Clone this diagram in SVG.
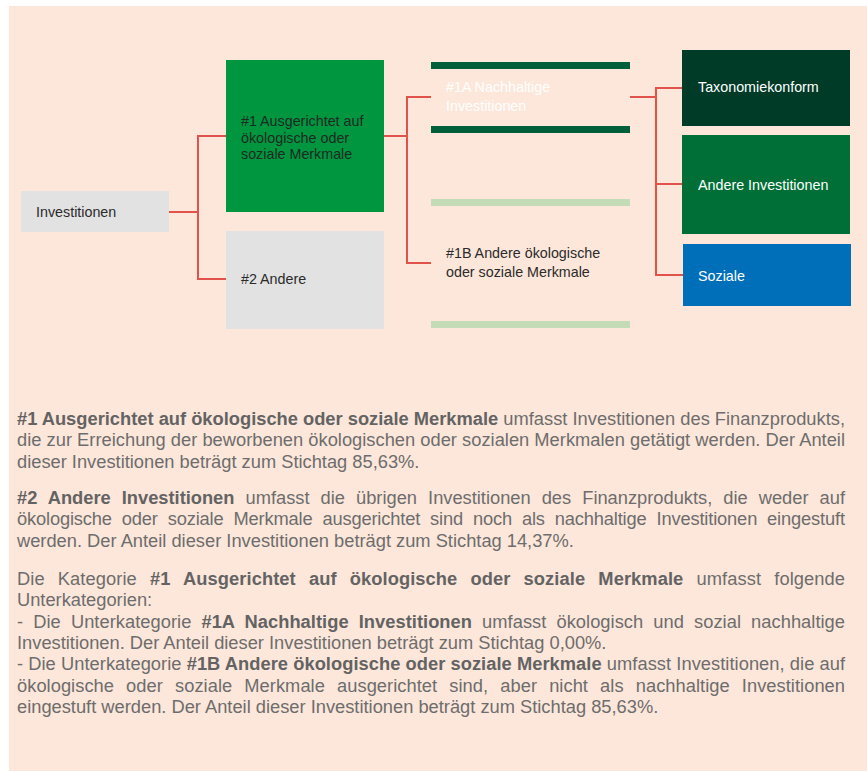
<svg xmlns="http://www.w3.org/2000/svg" width="867" height="772" viewBox="0 0 867 772">
<style>
.bg{fill:#fde7da}
.lbl{font-family:"Liberation Sans",Arial,sans-serif;font-size:14.3px}
.dark{fill:#2b2b2b}
.light{fill:#ffffff}
.con{fill:none;stroke:#e0524a;stroke-width:2}
.p{font-family:"Liberation Sans",Arial,sans-serif;font-size:18.3px;fill:#6d6d6d}
.b{font-weight:bold;fill:#636363}
</style>
<rect x="0" y="0" width="867" height="772" fill="#ffffff"/>
<rect class="bg" x="9" y="6" width="858" height="765"/>

<g id="connectors">
<path class="con" d="M169,212 H198 M198,136 V279 M197,136 H226 M197,279 H226"/>
<path class="con" d="M384,136 H407 M407,97 V263 M406,97 H431 M406,263 H431"/>
<path class="con" d="M630,97 H656 M656,88 V275 M655,88 H683 M655,184 H683 M655,275 H683"/>
</g>

<g id="investitionen">
<rect x="21" y="191" width="148" height="41" fill="#e2e2e2"/>
<text class="lbl dark" x="36" y="217">Investitionen</text>
</g>

<g id="n1">
<rect x="226" y="60" width="158" height="152" fill="#009640"/>
<text class="lbl" fill="#1d2a21" x="241" y="126">#1 Ausgerichtet auf</text>
<text class="lbl" fill="#1d2a21" x="241" y="142.5">ökologische oder</text>
<text class="lbl" fill="#1d2a21" x="241" y="159">soziale Merkmale</text>
</g>

<g id="n2">
<rect x="226" y="231" width="158" height="98" fill="#e2e2e2"/>
<text class="lbl dark" x="241" y="284">#2 Andere</text>
</g>

<g id="n1a">
<rect x="431" y="62" width="199" height="7" fill="#005f3b"/>
<rect x="431" y="126" width="199" height="7" fill="#005f3b"/>
<text class="lbl light" x="446" y="92">#1A Nachhaltige</text>
<text class="lbl light" x="446" y="111">Investitionen</text>
</g>

<g id="n1b">
<rect x="431" y="199" width="199" height="7" fill="#c3dcb7"/>
<rect x="431" y="321" width="199" height="7" fill="#c3dcb7"/>
<text class="lbl dark" x="446" y="258">#1B Andere ökologische</text>
<text class="lbl dark" x="446" y="277">oder soziale Merkmale</text>
</g>

<g id="taxonomiekonform">
<rect x="682" y="50" width="168" height="76" fill="#003b28"/>
<text class="lbl light" x="698" y="92">Taxonomiekonform</text>
</g>

<g id="andere-investitionen">
<rect x="682" y="135" width="168" height="99" fill="#006f37"/>
<text class="lbl light" x="698" y="190">Andere Investitionen</text>
</g>

<g id="soziale">
<rect x="683" y="244" width="168" height="62" fill="#006fba"/>
<text class="lbl light" x="698" y="281">Soziale</text>
</g>

<g id="text">
<text class="p" x="17" y="425.1" textLength="828" lengthAdjust="spacing"><tspan class="b">#1 Ausgerichtet auf ökologische oder soziale Merkmale</tspan> umfasst Investitionen des Finanzprodukts,</text>
<text class="p" x="17" y="446.4" textLength="828" lengthAdjust="spacing">die zur Erreichung der beworbenen ökologischen oder sozialen Merkmalen getätigt werden. Der Anteil</text>
<text class="p" x="17" y="467.7">dieser Investitionen beträgt zum Stichtag 85,63%.</text>

<text class="p" x="17" y="504" textLength="828" lengthAdjust="spacing" word-spacing="6"><tspan class="b">#2 Andere Investitionen</tspan> umfasst die übrigen Investitionen des Finanzprodukts, die weder auf</text>
<text class="p" x="17" y="525.3" textLength="828" lengthAdjust="spacing" word-spacing="5">ökologische oder soziale Merkmale ausgerichtet sind noch als nachhaltige Investitionen eingestuft</text>
<text class="p" x="17" y="546.6">werden. Der Anteil dieser Investitionen beträgt zum Stichtag 14,37%.</text>

<text class="p" x="17" y="585" textLength="828" lengthAdjust="spacing" word-spacing="8">Die Kategorie <tspan class="b">#1 Ausgerichtet auf ökologische oder soziale Merkmale</tspan> umfasst folgende</text>
<text class="p" x="17" y="606.3">Unterkategorien:</text>
<text class="p" x="17" y="627.6" textLength="828" lengthAdjust="spacing" word-spacing="5">- Die Unterkategorie <tspan class="b">#1A Nachhaltige Investitionen</tspan> umfasst ökologisch und sozial nachhaltige</text>
<text class="p" x="17" y="648.9">Investitionen. Der Anteil dieser Investitionen beträgt zum Stichtag 0,00%.</text>
<text class="p" x="17" y="670.2" textLength="828" lengthAdjust="spacing">- Die Unterkategorie <tspan class="b">#1B Andere ökologische oder soziale Merkmale</tspan> umfasst Investitionen, die auf</text>
<text class="p" x="17" y="691.5" textLength="828" lengthAdjust="spacing" word-spacing="7">ökologische oder soziale Merkmale ausgerichtet sind, aber nicht als nachhaltige Investitionen</text>
<text class="p" x="17" y="712.8">eingestuft werden. Der Anteil dieser Investitionen beträgt zum Stichtag 85,63%.</text>
</g>
</svg>
